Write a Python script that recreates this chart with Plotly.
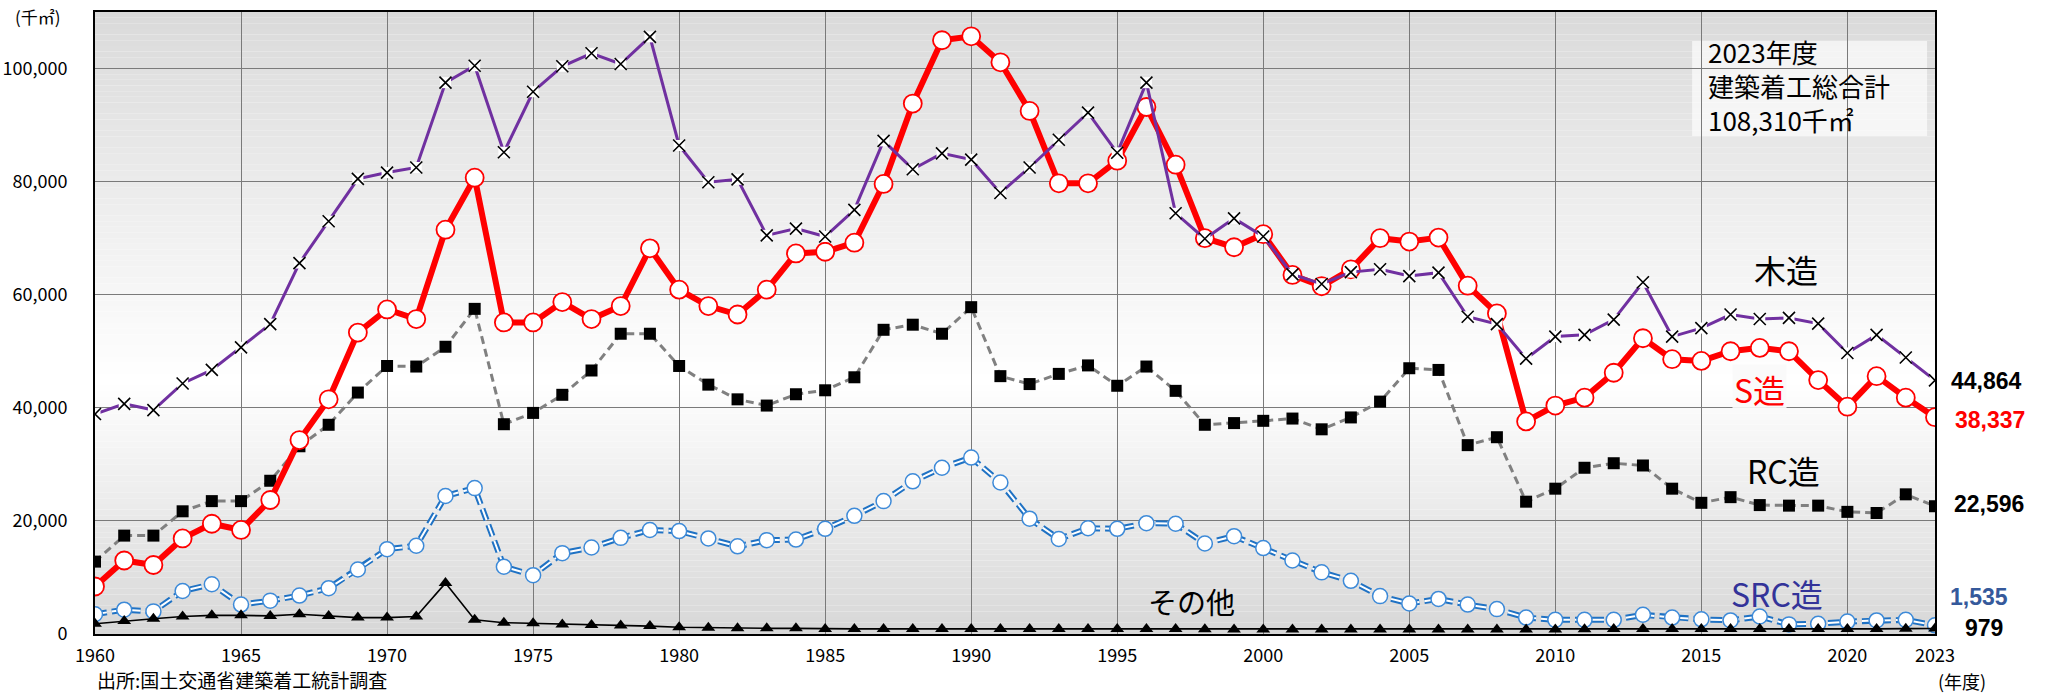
import plotly.graph_objects as go

years = list(range(1960, 2024))

wood = [38900, 40700, 39600, 44300, 46700, 50700, 54800, 65600, 73000, 80500,
        81600, 82500, 97500, 100500, 85200, 95900, 100400, 102700, 100800, 105600,
        86400, 79900, 80400, 70500, 71700, 70300, 75000, 87200, 82200, 85000,
        83900, 78000, 82500, 87400, 92200, 85100, 97500, 74400, 69900, 73500,
        70300, 63600, 61900, 64000, 64500, 63300, 63900, 56100, 54800, 48700,
        52600, 52900, 55600, 62200, 52600, 54100, 56500, 55700, 55900, 54900,
        49700, 52900, 48900, 44864]

steel = [8400, 13000, 12200, 16900, 19500, 18400, 23700, 34300, 41500, 53300,
         57400, 55700, 71500, 80700, 55100, 55100, 58700, 55700, 58000, 68200,
         60900, 58000, 56500, 60900, 67300, 67600, 69200, 79600, 93800, 105000,
         105700, 101100, 92500, 79700, 79700, 83700, 93200, 83000, 70000, 68400,
         70700, 63500, 61500, 64500, 70000, 69400, 70100, 61600, 56700, 37600,
         40400, 41800, 46200, 52300, 48600, 48300, 50000, 50600, 50000, 44900,
         40200, 45600, 41800, 38337]

rc = [12800, 17400, 17400, 21700, 23500, 23500, 27100, 33200, 37000, 42700,
      47400, 47300, 50800, 57500, 37100, 39100, 42300, 46600, 53100, 53100,
      47400, 44100, 41500, 40400, 42400, 43100, 45400, 53800, 54700, 53100,
      57800, 45600, 44200, 46000, 47500, 43900, 47300, 43000, 37000, 37300,
      37700, 38100, 36200, 38300, 41100, 47000, 46700, 33400, 34800, 23400,
      25700, 29400, 30200, 29800, 25700, 23200, 24200, 22800, 22700, 22700,
      21600, 21400, 24700, 22596]

src = [3500, 4300, 4000, 7600, 8800, 5200, 5900, 6800, 8100, 11400,
       15000, 15600, 24400, 25800, 11900, 10400, 14300, 15300, 17000, 18400,
       18200, 16900, 15500, 16600, 16700, 18600, 20900, 23500, 27000, 29400,
       31200, 26800, 20400, 16800, 18700, 18600, 19600, 19500, 16000, 17300,
       15200, 13000, 10900, 9400, 6700, 5400, 6200, 5200, 4400, 2900,
       2500, 2500, 2500, 3400, 2900, 2600, 2400, 3100, 1700, 1800,
       2200, 2400, 2500, 1535]

other = [1800, 2300, 2700, 3100, 3300, 3300, 3200, 3500, 3200, 2900,
         2900, 3100, 9000, 2500, 2000, 1900, 1700, 1600, 1500, 1400,
         1200, 1100, 1000, 1000, 1000, 900, 900, 900, 900, 900,
         900, 900, 900, 900, 900, 900, 900, 900, 850, 800,
         800, 800, 800, 800, 800, 800, 800, 800, 800, 800,
         800, 850, 900, 900, 900, 900, 900, 900, 900, 900,
         900, 900, 950, 979]

series_names = ["木造", "S造", "RC造", "SRC造", "その他"]
x_tick_vals = [1960, 1965, 1970, 1975, 1980, 1985, 1990, 1995, 2000, 2005, 2010, 2015, 2020, 2023]
y_tick_vals = [0, 20000, 40000, 60000, 80000, 100000]
total_lines = ["2023年度", "建築着工総合計", "108,310千㎡"]

JP = "Noto Sans CJK JP"
BOLDNUM = "Liberation Sans, Arial, sans-serif"

fig = go.Figure()

# background gradient (grey at top and bottom, white in the middle)
Y_MAX = 110000
def shade(v):
    top, mid, bot = 218, 255, 215
    mid_y = 45000
    if v >= mid_y:
        t = (v - mid_y) / (Y_MAX - mid_y)
        return mid + (top - mid) * t
    t = (mid_y - v) / mid_y
    return mid + (bot - mid) * t

n_bands = 110
step = Y_MAX / n_bands
for i in range(n_bands):
    y0 = i * step
    y1 = (i + 1) * step
    c = int(round(shade((y0 + y1) / 2)))
    fig.add_shape(type="rect", xref="paper", yref="y", x0=0, x1=1, y0=y0, y1=y1 + 1,
                  fillcolor=f"rgb({c},{c},{c})", line_width=0, layer="below")

# SRC (double blue dashed line)
fig.add_trace(go.Scatter(x=years, y=src, mode="lines",
                         line=dict(color="#1f72c4", width=6, dash="12px,5px"),
                         hoverinfo="skip", showlegend=False))
fig.add_trace(go.Scatter(x=years, y=src, mode="lines+markers", name=series_names[3],
                         line=dict(color="white", width=2, dash="12px,5px"),
                         marker=dict(symbol="circle", size=15, color="white",
                                     line=dict(color="#3d8ad8", width=1.5)),
                         showlegend=False))
# Other
fig.add_trace(go.Scatter(x=years, y=other, mode="lines+markers", name=series_names[4],
                         line=dict(color="black", width=1.6),
                         marker=dict(symbol="triangle-up", size=12, color="black"),
                         showlegend=False))
# RC
fig.add_trace(go.Scatter(x=years, y=rc, mode="lines+markers", name=series_names[2],
                         line=dict(color="#808080", width=3, dash="8px,5px"),
                         marker=dict(symbol="square", size=12, color="black"),
                         showlegend=False))
# S
fig.add_trace(go.Scatter(x=years, y=steel, mode="lines+markers", name=series_names[1],
                         line=dict(color="#ff0000", width=6),
                         marker=dict(symbol="circle", size=18, color="white",
                                     line=dict(color="#ff0000", width=1.8)),
                         showlegend=False))
# Wood
fig.add_trace(go.Scatter(x=years, y=wood, mode="lines", name=series_names[0],
                         line=dict(color="#7030a0", width=3),
                         showlegend=False))
fig.add_trace(go.Scatter(x=years, y=wood, mode="markers",
                         marker=dict(symbol="square", size=11, color="white"),
                         hoverinfo="skip", showlegend=False))
fig.add_trace(go.Scatter(x=years, y=wood, mode="markers",
                         marker=dict(symbol="x-thin", size=12, color="black",
                                     line=dict(color="black", width=1.6)),
                         hoverinfo="skip", showlegend=False))

ann = []
# series labels
ann.append(dict(x=2017.9, y=64600, xref="x", yref="y", text=series_names[0], showarrow=False,
                font=dict(family=JP, size=32, color="black")))
ann.append(dict(x=2017.0, y=43300, xref="x", yref="y", text=series_names[1], showarrow=False,
                font=dict(family=JP, size=32, color="#ff0000"), bgcolor="rgba(250,250,250,0.9)"))
ann.append(dict(x=2017.8, y=29000, xref="x", yref="y", text=series_names[2], showarrow=False,
                font=dict(family=JP, size=32, color="black")))
ann.append(dict(x=2017.6, y=7300, xref="x", yref="y", text=series_names[3], showarrow=False,
                font=dict(family=JP, size=32, color="#333399")))
ann.append(dict(x=1997.55, y=5800, xref="x", yref="y", text=series_names[4], showarrow=False,
                font=dict(family=JP, size=29, color="black")))

# end-value labels
end_specs = [
    (wood[-1], 44700, 14, "black"),
    (steel[-1], 37900, 18, "#ff0000"),
    (rc[-1], 23000, 17, "black"),
    (src[-1], 6600, 13, "#35599b"),
    (other[-1], 1100, 28, "black"),
]
for val, ypos, xs, col in end_specs:
    ann.append(dict(x=2023, y=ypos, xref="x", yref="y", text=f"<b>{val:,}</b>", showarrow=False,
                    xanchor="left", yanchor="middle", xshift=xs,
                    font=dict(family=BOLDNUM, size=23, color=col)))

# total box text
fig.add_shape(type="rect", xref="paper", yref="paper", x0=0.868, x1=0.9957, y0=0.8006, y1=0.9534,
              fillcolor="rgba(255,255,255,0.65)", line_width=0, layer="between")
ann.append(dict(x=0.8755, y=0.8811, xref="paper", yref="paper", text="<br>".join(total_lines),
                showarrow=False, xanchor="left", yanchor="middle", align="left",
                font=dict(family=JP, size=26, color="black")))

# units and source
ann.append(dict(x=-0.031, y=0.992, xref="paper", yref="paper", text="(千㎡)", showarrow=False,
                xanchor="center", yanchor="middle", font=dict(family=JP, size=17, color="black")))
ann.append(dict(x=1.0147, y=-0.076, xref="paper", yref="paper", text="(年度)", showarrow=False,
                xanchor="center", yanchor="middle", font=dict(family=JP, size=18, color="black")))
ann.append(dict(x=0.0, y=-0.073, xref="paper", yref="paper", text="出所:国土交通省建築着工統計調査",
                showarrow=False, xanchor="left", yanchor="middle",
                font=dict(family=JP, size=19, color="black")))

fig.update_layout(
    width=2046, height=693,
    margin=dict(l=95, r=111, t=12, b=59, autoexpand=False),
    paper_bgcolor="white",
    plot_bgcolor="white",
    annotations=ann,
    showlegend=False,
    xaxis=dict(range=[1960, 2023], tickvals=x_tick_vals, ticktext=[str(v) for v in x_tick_vals],
               showgrid=True, gridcolor="#7a7a7a", gridwidth=1, zeroline=False,
               showline=True, linecolor="black", linewidth=2, mirror=True,
               ticks="", ticklabelstandoff=4, automargin=False,
               tickfont=dict(family=JP, size=18, color="black")),
    yaxis=dict(range=[0, Y_MAX], tickvals=y_tick_vals, tickformat=",d",
               showgrid=True, gridcolor="#7a7a7a", gridwidth=1, zeroline=False,
               showline=True, linecolor="black", linewidth=2, mirror=True,
               ticks="", ticklabelstandoff=22, automargin=False,
               tickfont=dict(family=JP, size=18, color="black")),
)

fig.write_html("out.html", config={"displayModeBar": False},
               post_script="document.body.style.margin='0px';")
